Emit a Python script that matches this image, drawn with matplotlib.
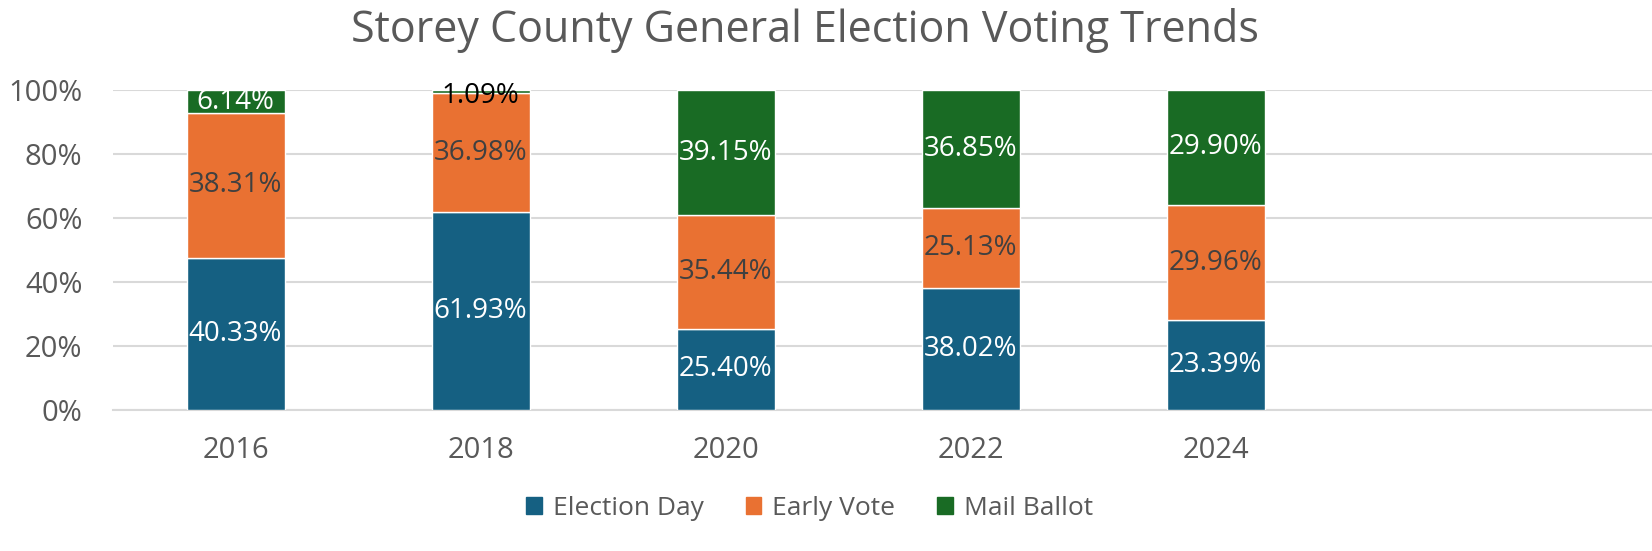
import numpy as np
import matplotlib
matplotlib.use("Agg")
import matplotlib.pyplot as plt
from matplotlib.patches import Patch
from matplotlib.ticker import PercentFormatter

years = ["2016", "2018", "2020", "2022", "2024"]
series_names = ["Election Day", "Early Vote", "Mail Ballot"]
election_day = [40.33, 61.93, 25.40, 38.02, 23.39]
early_vote = [38.31, 36.98, 35.44, 25.13, 29.96]
mail_ballot = [6.14, 1.09, 39.15, 36.85, 29.90]

colors = ["#156082", "#E97132", "#196B24"]
label_colors = ["white", "#404040", "white"]
grey = "#595959"

plt.rcParams['font.family'] = ['Open Sans', 'DejaVu Sans']

fig = plt.figure(figsize=(16.52, 5.51), dpi=100)
ax = fig.add_axes([113 / 1652, 1 - 410 / 551, 1 - 113 / 1652, 320 / 551])

data = np.array([election_day, early_vote, mail_ballot])
totals = data.sum(axis=0)
shares = data / totals * 100  # 100% stacked
x = np.arange(len(years))
bottom = np.zeros(len(years))

for i, name in enumerate(series_names):
    bars = ax.bar(x, shares[i], 0.4, bottom=bottom, color=colors[i],
                  edgecolor="white", linewidth=1, label=name, zorder=3)
    for j, b in enumerate(bars):
        col = label_colors[i]
        yc = bottom[j] + shares[i][j] / 2
        if i == 2 and shares[i][j] < 3:
            # tiny segment: label sits just over the bar top
            col = "black"
            yc = 98
        ax.text(b.get_x() + b.get_width() / 2, yc,
                f"{data[i][j]:.2f}%", ha="center", va="center",
                fontsize=20, color=col, zorder=4)
    bottom += shares[i]

ax.set_xlim(-0.5, 5.78)
ax.set_ylim(0, 100)
ax.set_yticks(np.arange(0, 101, 20))
ax.yaxis.set_major_formatter(PercentFormatter(decimals=0))
ax.set_xticks(x)
ax.set_xticklabels(years)
ax.tick_params(axis="both", length=0, labelsize=21, colors=grey)
ax.tick_params(axis="x", pad=19)
ax.tick_params(axis="y", pad=22)
ax.grid(axis="y", color="#D9D9D9", linewidth=1.5, zorder=0)
for s in ["top", "right", "left"]:
    ax.spines[s].set_visible(False)
ax.spines["bottom"].set_color("#D9D9D9")
ax.spines["bottom"].set_linewidth(1.5)

fig.text(0.487, 0.945, "Storey County General Election Voting Trends",
         ha="center", va="center", fontsize=31, color=grey)

handles = [Patch(color=c) for c in colors]
leg = fig.legend(handles, series_names, loc="center", bbox_to_anchor=(0.49, 0.077),
                 ncol=3, frameon=False, handlelength=0.6, handleheight=0.6,
                 handletextpad=0.4, columnspacing=1.6,
                 prop={'size': 19})
for t in leg.get_texts():
    t.set_color(grey)

fig.savefig("out.png", dpi=100)
